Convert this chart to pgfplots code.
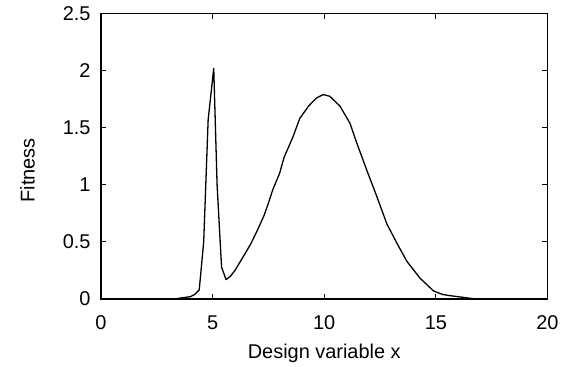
\documentclass[border=0pt]{standalone}
\usepackage{pgfplots}
\pgfplotsset{compat=1.18}
\usepackage{fontspec}
\setmainfont{Liberation Sans}
\begin{document}
\begin{tikzpicture}
\useasboundingbox (-101bp,-68bp) rectangle (462bp,299bp);
\begin{axis}[
  at={(0,0)}, anchor=south west,
  scale only axis,
  width=446.5bp, height=285.5bp,
  xmin=0, xmax=20, ymin=0, ymax=2.5,
  xtick={0,5,10,15,20},
  ytick={0,0.5,1,1.5,2,2.5},
  tick align=inside,
  major tick length=5.5bp,
  axis line style={line width=1.2bp},
  tick style={line width=0.9bp, black},
  /pgf/number format/assume math mode=true,
  ticklabel style={font=\fontsize{20}{24}\selectfont},
  label style={font=\fontsize{20}{24}\selectfont},
  xticklabel style={yshift=-13bp},
  yticklabel style={xshift=-7bp},
  xlabel={Design variable x},
  ylabel={Fitness},
  xlabel style={yshift=-8bp},
  ylabel style={yshift=21bp, xshift=-14bp},
  clip=false,
]
\addplot[black, line width=1.3bp, line join=round] coordinates {
(0,0) (3.3,0) (3.6,0.01) (4.0,0.02) (4.2,0.04) (4.4,0.08)
(4.6,0.5) (4.8,1.57) (5.05,2.02) (5.2,1.0) (5.4,0.28) (5.6,0.17)
(5.8,0.2) (6.0,0.25) (6.4,0.38) (6.7,0.48) (7.0,0.6) (7.3,0.73)
(7.5,0.84) (7.7,0.96) (8.0,1.1) (8.2,1.24) (8.6,1.42) (8.9,1.58)
(9.3,1.69) (9.65,1.76) (9.95,1.79) (10.25,1.775) (10.7,1.69)
(11.15,1.54) (11.45,1.37) (11.9,1.13) (12.35,0.9) (12.8,0.66)
(13.25,0.49) (13.7,0.33) (14.3,0.18) (14.9,0.07) (15.3,0.04)
(15.6,0.03) (16.0,0.02) (16.4,0.01) (16.8,0) (20,0)
};
\end{axis}
\end{tikzpicture}
\end{document}
